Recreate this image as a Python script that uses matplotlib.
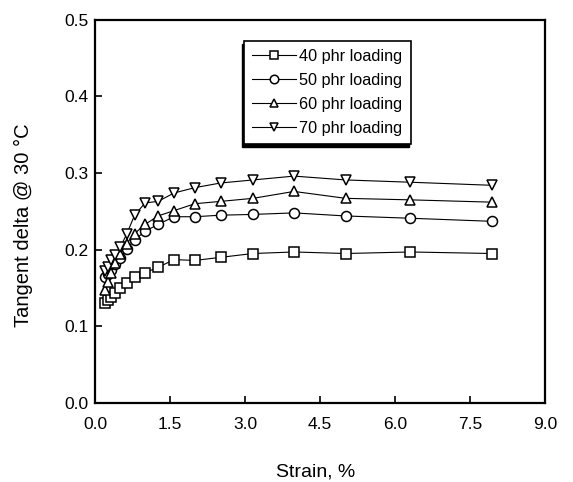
import matplotlib.pyplot as plt
from matplotlib.patches import Rectangle
from matplotlib.transforms import IdentityTransform
import numpy as np

plt.rcParams['font.family'] = ['Liberation Sans', 'DejaVu Sans']

# strain sweep (%), ten points per decade
strain = [0.20, 0.25, 0.32, 0.40, 0.50, 0.63, 0.79, 1.00, 1.26, 1.58,
          2.00, 2.51, 3.16, 3.98, 5.01, 6.31, 7.94]

# tangent delta at 30 C for each carbon black loading
tan_40 = [0.131, 0.134, 0.138, 0.143, 0.150, 0.156, 0.164, 0.170, 0.177, 0.187,
          0.186, 0.190, 0.195, 0.197, 0.195, 0.197, 0.195]
tan_50 = [0.164, 0.168, 0.174, 0.181, 0.189, 0.201, 0.213, 0.224, 0.233, 0.243,
          0.243, 0.245, 0.246, 0.248, 0.244, 0.241, 0.237]
tan_60 = [0.148, 0.158, 0.170, 0.182, 0.195, 0.208, 0.221, 0.233, 0.244, 0.251,
          0.260, 0.263, 0.267, 0.276, 0.267, 0.265, 0.262]
tan_70 = [0.172, 0.178, 0.186, 0.193, 0.203, 0.220, 0.245, 0.261, 0.263, 0.274,
          0.281, 0.287, 0.291, 0.296, 0.291, 0.288, 0.284]

series = [(tan_40, 's', '40 phr loading'),
          (tan_50, 'o', '50 phr loading'),
          (tan_60, '^', '60 phr loading'),
          (tan_70, 'v', '70 phr loading')]

fig = plt.figure(figsize=(5.73, 4.82), dpi=100)
ax = fig.add_axes([0.166, 0.164, 0.785, 0.795])

for vals, mk, lab in series:
    ax.plot(strain, vals, color='k', lw=0.8, marker=mk, markersize=7.2,
            markerfacecolor='white', markeredgecolor='k', markeredgewidth=1.1,
            label=lab)

ax.set_xlim(0, 9)
ax.set_ylim(0, 0.5)
ax.set_xticks(np.arange(0, 9.01, 1.5))
ax.set_yticks(np.arange(0, 0.51, 0.1))
ax.xaxis.set_major_formatter(plt.FormatStrFormatter('%.1f'))
ax.yaxis.set_major_formatter(plt.FormatStrFormatter('%.1f'))
ax.tick_params(direction='in', length=5, width=1.2, labelsize=12.5)
ax.tick_params(axis='x', pad=10)
ax.tick_params(axis='y', pad=5)

for s in ax.spines.values():
    s.set_linewidth(1.6)

ax.set_xlabel('Strain, %', fontsize=14)
ax.set_ylabel('Tangent delta @ 30 \u00b0C', fontsize=14.5)
ax.xaxis.set_label_coords(0.49, -0.157)
ax.yaxis.set_label_coords(-0.138, 0.465)

leg = ax.legend(loc='upper left', bbox_to_anchor=(0.331, 0.945), borderaxespad=0,
                fontsize=11.7, frameon=True, fancybox=False, edgecolor='k',
                framealpha=1, handlelength=2.7, handletextpad=0.2,
                borderpad=0.5, labelspacing=0.55, markerscale=0.85)
leg.get_frame().set_linewidth(1.2)
leg.set_zorder(5)

# solid shadow below and left of the legend box, drawn under the legend
fig.canvas.draw()
bb = leg.get_frame().get_window_extent()
shadow = Rectangle((bb.x0 - 2, bb.y0 - 3), bb.width, bb.height,
                   transform=IdentityTransform(), facecolor='k', edgecolor='k',
                   zorder=4, clip_on=False)
ax.add_artist(shadow)

fig.savefig('out.png', dpi=100)
